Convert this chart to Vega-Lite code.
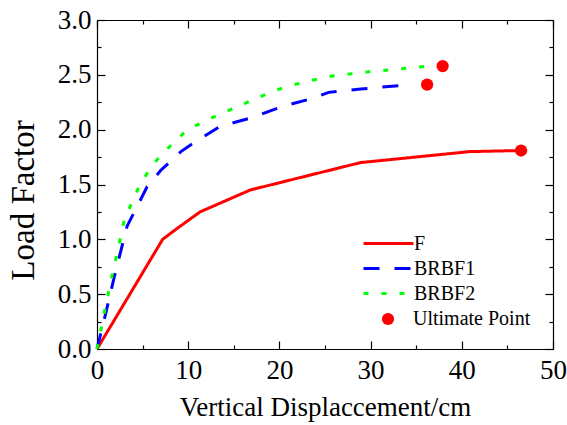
{
  "$schema": "https://vega.github.io/schema/vega-lite/v6.json",
  "width": 456,
  "height": 329,
  "autosize": {"type": "none"},
  "padding": {"left": 97, "top": 20, "right": 14, "bottom": 76},
  "config": {
    "font": "Liberation Serif",
    "view": {"stroke": null},
    "axis": {
      "grid": false,
      "domainColor": "#000000",
      "domainWidth": 1.2,
      "tickColor": "#000000",
      "tickWidth": 1.2,
      "labelFont": "Liberation Serif",
      "labelFontSize": 27,
      "labelColor": "#000000",
      "labelFlush": false,
      "labelOverlap": false,
      "titleFont": "Liberation Serif",
      "titleFontWeight": "normal",
      "titleColor": "#000000"
    },
    "legend": {
      "labelFont": "Liberation Serif",
      "labelFontSize": 20,
      "labelColor": "#000000",
      "padding": 0
    }
  },
  "datasets": {
    "curves": [
      {"series": "F", "disp": 0, "load": 0},
      {"series": "F", "disp": 7.2, "load": 1.0},
      {"series": "F", "disp": 8.8, "load": 1.1},
      {"series": "F", "disp": 11.3, "load": 1.25},
      {"series": "F", "disp": 16.8, "load": 1.45},
      {"series": "F", "disp": 28.9, "load": 1.7},
      {"series": "F", "disp": 40.9, "load": 1.8},
      {"series": "F", "disp": 46.5, "load": 1.81},
      {"series": "BRBF1", "disp": 0, "load": 0},
      {"series": "BRBF1", "disp": 0.8, "load": 0.27},
      {"series": "BRBF1", "disp": 1.9, "load": 0.66},
      {"series": "BRBF1", "disp": 3.3, "load": 1.12},
      {"series": "BRBF1", "disp": 5.5, "load": 1.48},
      {"series": "BRBF1", "disp": 7.0, "load": 1.63},
      {"series": "BRBF1", "disp": 9.2, "load": 1.8},
      {"series": "BRBF1", "disp": 10.6, "load": 1.88},
      {"series": "BRBF1", "disp": 13.5, "load": 2.03},
      {"series": "BRBF1", "disp": 17.0, "load": 2.11},
      {"series": "BRBF1", "disp": 20.3, "load": 2.21},
      {"series": "BRBF1", "disp": 23.8, "load": 2.29},
      {"series": "BRBF1", "disp": 25.4, "load": 2.34},
      {"series": "BRBF1", "disp": 28.9, "load": 2.37},
      {"series": "BRBF1", "disp": 34.2, "load": 2.41},
      {"series": "BRBF2", "disp": 0, "load": 0},
      {"series": "BRBF2", "disp": 0.8, "load": 0.33},
      {"series": "BRBF2", "disp": 1.7, "load": 0.69},
      {"series": "BRBF2", "disp": 2.2, "load": 0.87},
      {"series": "BRBF2", "disp": 3.0, "load": 1.18},
      {"series": "BRBF2", "disp": 4.6, "load": 1.48},
      {"series": "BRBF2", "disp": 5.7, "load": 1.63},
      {"series": "BRBF2", "disp": 7.0, "load": 1.77},
      {"series": "BRBF2", "disp": 8.4, "load": 1.88},
      {"series": "BRBF2", "disp": 9.9, "load": 2.0},
      {"series": "BRBF2", "disp": 11.9, "load": 2.08},
      {"series": "BRBF2", "disp": 13.7, "load": 2.15},
      {"series": "BRBF2", "disp": 15.7, "load": 2.22},
      {"series": "BRBF2", "disp": 17.6, "load": 2.29},
      {"series": "BRBF2", "disp": 19.6, "load": 2.36},
      {"series": "BRBF2", "disp": 21.6, "load": 2.41},
      {"series": "BRBF2", "disp": 23.6, "load": 2.45},
      {"series": "BRBF2", "disp": 25.8, "load": 2.49},
      {"series": "BRBF2", "disp": 30.0, "load": 2.53},
      {"series": "BRBF2", "disp": 34.0, "load": 2.56},
      {"series": "BRBF2", "disp": 36.4, "load": 2.58}
    ],
    "ultimate": [
      {"kind": "Ultimate Point", "series": "F", "disp": 46.5, "load": 1.81},
      {"kind": "Ultimate Point", "series": "BRBF1", "disp": 36.2, "load": 2.41},
      {"kind": "Ultimate Point", "series": "BRBF2", "disp": 37.9, "load": 2.58}
    ]
  },
  "resolve": {"axis": {"x": "independent", "y": "independent"}},
  "layer": [
    {
      "data": {"name": "curves"},
      "mark": {"type": "line", "strokeWidth": 3, "strokeCap": "butt"},
      "encoding": {
        "x": {
          "field": "disp",
          "type": "quantitative",
          "scale": {"domain": [0, 50], "nice": false, "zero": false},
          "axis": {
            "orient": "bottom",
            "title": "Vertical Displaccement/cm",
            "titleFontSize": 27,
            "titleBaseline": "alphabetic",
            "titleY": 66,
            "values": [0, 5, 10, 15, 20, 25, 30, 35, 40, 45, 50],
            "format": "d",
            "labelExpr": "datum.value % 10 === 0 ? datum.label : ''",
            "tickSize": {"condition": {"test": "datum.value % 10 === 0", "value": -8}, "value": -4},
            "labelPadding": 16
          }
        },
        "y": {
          "field": "load",
          "type": "quantitative",
          "scale": {"domain": [0, 3], "nice": false, "zero": false},
          "axis": {
            "orient": "left",
            "title": "Load Factor",
            "titleFontSize": 33,
            "titleBaseline": "alphabetic",
            "titleX": -64,
            "titleY": 180,
            "values": [0, 0.25, 0.5, 0.75, 1, 1.25, 1.5, 1.75, 2, 2.25, 2.5, 2.75, 3],
            "format": ".1f",
            "labelExpr": "(datum.value * 2) % 1 === 0 ? datum.label : ''",
            "tickSize": {"condition": {"test": "(datum.value * 2) % 1 === 0", "value": -8}, "value": -4},
            "labelPadding": 14
          }
        },
        "color": {
          "field": "series",
          "type": "nominal",
          "scale": {"domain": ["F", "BRBF1", "BRBF2"], "range": ["#ff0000", "#0000ff", "#00ff00"]},
          "legend": {
            "title": null,
            "orient": "none",
            "legendX": 280,
            "legendY": 212,
            "symbolType": "M-2.5,0H2.5",
            "symbolSize": 400,
            "symbolStrokeWidth": 3,
            "labelOffset": 14,
            "rowPadding": 3
          }
        },
        "strokeDash": {
          "field": "series",
          "type": "nominal",
          "scale": {"domain": ["F", "BRBF1", "BRBF2"], "range": [[1, 0], [16, 15], [5, 13]]},
          "legend": {
            "title": null,
            "orient": "none",
            "legendX": 280,
            "legendY": 212,
            "symbolType": "M-2.5,0H2.5",
            "symbolSize": 400,
            "symbolStrokeWidth": 3,
            "labelOffset": 14,
            "rowPadding": 3
          }
        }
      }
    },
    {
      "data": {"name": "ultimate"},
      "mark": {"type": "point", "shape": "circle", "filled": true, "size": 150, "opacity": 1, "strokeWidth": 0},
      "encoding": {
        "x": {
          "field": "disp",
          "type": "quantitative",
          "scale": {"domain": [0, 50], "nice": false, "zero": false},
          "axis": {
            "orient": "top",
            "title": null,
            "labels": false,
            "values": [0, 5, 10, 15, 20, 25, 30, 35, 40, 45, 50],
            "tickSize": {"condition": {"test": "datum.value % 10 === 0", "value": -8}, "value": -4}
          }
        },
        "y": {
          "field": "load",
          "type": "quantitative",
          "scale": {"domain": [0, 3], "nice": false, "zero": false},
          "axis": {
            "orient": "right",
            "title": null,
            "labels": false,
            "values": [0, 0.25, 0.5, 0.75, 1, 1.25, 1.5, 1.75, 2, 2.25, 2.5, 2.75, 3],
            "tickSize": {"condition": {"test": "(datum.value * 2) % 1 === 0", "value": -8}, "value": -4}
          }
        },
        "fill": {
          "field": "kind",
          "type": "nominal",
          "scale": {"domain": ["Ultimate Point"], "range": ["#ff0000"]},
          "legend": {
            "title": null,
            "orient": "none",
            "legendX": 281,
            "legendY": 289,
            "symbolType": "circle",
            "symbolSize": 150,
            "symbolStrokeWidth": 0,
            "labelOffset": 15
          }
        }
      }
    }
  ]
}
